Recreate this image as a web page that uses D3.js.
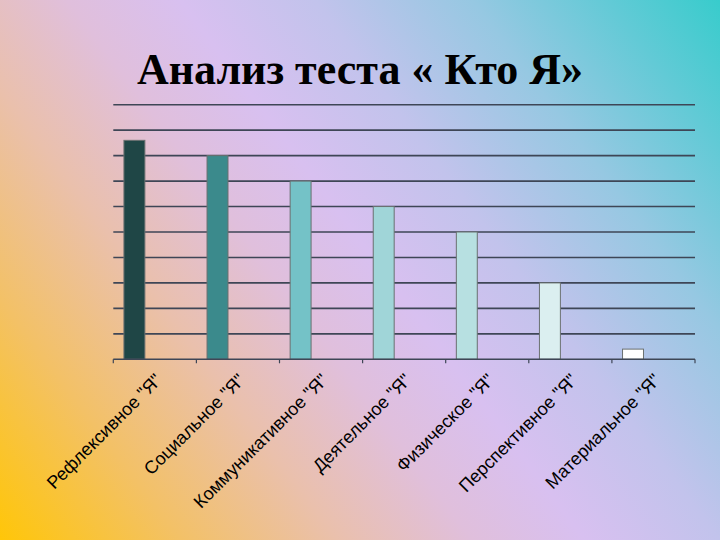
<!DOCTYPE html>
<html>
<head>
<meta charset="utf-8">
<script src="https://cdn.jsdelivr.net/npm/d3@7"></script>
<style>
  html, body { margin: 0; padding: 0; }
  svg { display: block; }
</style>
</head>
<body>
<svg id="chart" width="720" height="540"></svg>
<script>
const title = "Анализ теста « Кто Я»";
const categories = ['Рефлексивное "Я"', 'Социальное "Я"', 'Коммуникативное "Я"', 'Деятельное "Я"', 'Физическое "Я"', 'Перспективное "Я"', 'Материальное "Я"'];
const values = [8.6, 8, 7, 6, 5, 3, 0.4];
const barColors = ["#1f4646", "#3b8a8c", "#74c2c7", "#a0d5d8", "#b7e0e1", "#dbeff0", "#ffffff"];
const yTicks = [1, 2, 3, 4, 5, 6, 7, 8, 9, 10];

const svg = d3.select("#chart");
const W = 720, H = 540;

// background gradient
const defs = svg.append("defs");
const grad = defs.append("linearGradient")
  .attr("id", "bg").attr("gradientUnits", "userSpaceOnUse")
  .attr("x1", 0).attr("y1", 540).attr("x2", 720).attr("y2", 0);
[[0, "#ffc608"], [0.16, "#f3c166"], [0.3, "#eac0ac"], [0.42, "#e0bfdc"], [0.52, "#d8c0f0"], [0.64, "#c2c3ec"], [0.78, "#96c8e2"], [0.9, "#62cad6"], [1, "#38cccc"]]
  .forEach(([o, c]) => grad.append("stop").attr("offset", o).attr("stop-color", c));
svg.append("rect").attr("width", W).attr("height", H).attr("fill", "url(#bg)");

// title
svg.append("text")
  .attr("x", 360).attr("y", 84)
  .attr("text-anchor", "middle")
  .attr("font-family", "'Liberation Serif', 'Times New Roman', serif")
  .attr("font-weight", "bold")
  .attr("font-size", 44)
  .attr("fill", "#000")
  .text(title);

const x0 = 113.3, x1 = 695, yBase = 359.3, yTop = 104.7;
const x = d3.scaleBand().domain(categories).range([x0, x1]).paddingInner(0).paddingOuter(0);
const y = d3.scaleLinear().domain([0, 10]).range([yBase, yTop]);

// gridlines
svg.append("g").selectAll("line").data(yTicks).join("line")
  .attr("x1", x0).attr("x2", x1)
  .attr("y1", d => y(d)).attr("y2", d => y(d))
  .attr("stroke", "#3e4656").attr("stroke-width", 1.6);

// bars
const bw = x.bandwidth();
svg.append("g").selectAll("rect").data(values).join("rect")
  .attr("x", (d, i) => x(categories[i]) + bw * 0.128)
  .attr("width", bw * 0.252)
  .attr("y", d => y(d))
  .attr("height", d => yBase - y(d))
  .attr("fill", (d, i) => barColors[i])
  .attr("stroke", "#6a7070").attr("stroke-width", 1);

// x axis
const axis = svg.append("g").attr("transform", `translate(0,${yBase})`);
axis.append("line").attr("x1", x0).attr("x2", x1).attr("y1", 0).attr("y2", 0)
  .attr("stroke", "#3e4656").attr("stroke-width", 1.6);
const bounds = categories.map(c => x(c)).concat([x1]);
axis.selectAll("line.tick").data(bounds).join("line").attr("class", "tick")
  .attr("x1", d => d).attr("x2", d => d).attr("y1", 0).attr("y2", 4)
  .attr("stroke", "#3e4656").attr("stroke-width", 1.2);

// labels
svg.append("g").selectAll("text").data(categories).join("text")
  .attr("transform", d => `translate(${x(d) + bw / 2 + 8},${yBase + 22}) rotate(-45)`)
  .attr("text-anchor", "end")
  .attr("font-family", "'Liberation Sans', Arial, sans-serif")
  .attr("font-size", 18)
  .attr("fill", "#000")
  .text(d => d);
</script>
</body>
</html>
